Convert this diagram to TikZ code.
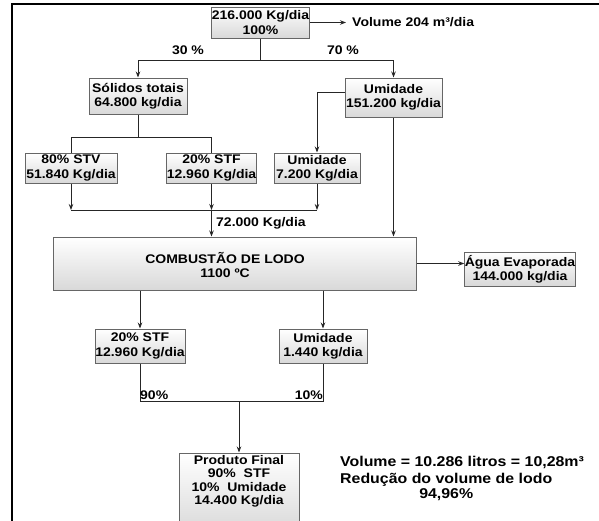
\documentclass[tikz,border=0pt]{standalone}
\usepackage{fontspec}
\setmainfont{Liberation Sans}[FakeStretch=1.12]
\usetikzlibrary{arrows.meta}
\begin{document}
\begin{tikzpicture}[x=1pt,y=-1pt,
  box/.style={draw=black!60, line width=1pt, top color=white, bottom color=gray!30,
    inner sep=0pt, align=center, font=\bfseries\fontsize{12.5}{14.2}\selectfont},
  ln/.style={draw=black!85, line width=0.9pt},
  arr/.style={ln, -{Stealth[length=6pt,width=4.5pt]}},
  lbl/.style={inner sep=0pt, align=center, font=\bfseries\fontsize{12.5}{14.2}\selectfont},
  rt/.style={inner sep=0pt, font=\bfseries\fontsize{14.2}{15}\selectfont}]
\useasboundingbox (0,0) rectangle (599,520);
\clip (0,0) rectangle (599,520);
% frame
\draw[line width=2.4pt] (12,522) -- (12,4) -- (601,4);

% boxes
\node[box, minimum width=97, minimum height=31] (A) at (260.5,22.5) {216.000 Kg/dia\\100\%};
\node[lbl, anchor=west] (V) at (352,22.5) {Volume 204 m³/dia};
\node[box, minimum width=98, minimum height=36] (B) at (138,96) {Sólidos totais\\64.800 kg/dia};
\node[box, minimum width=97, minimum height=39] (C) at (393.5,97.5) {Umidade\\151.200 kg/dia};
\node[box, minimum width=92, minimum height=30] (D1) at (71,168) {80\% STV\\51.840 Kg/dia};
\node[box, minimum width=89, minimum height=30] (D2) at (211.5,168) {20\% STF\\12.960 Kg/dia};
\node[box, minimum width=86, minimum height=30] (D3) at (317,168) {Umidade\\7.200 Kg/dia};
\node[box, minimum width=363, minimum height=53] (E) at (234.5,263.5) {};
\node[lbl] (Et) at (225,265) {COMBUSTÃO DE LODO\\1100 ºC};
\node[box, minimum width=110, minimum height=34] (F) at (520,269) {Água Evaporada\\144.000 kg/dia};
\node[box, minimum width=90, minimum height=34] (G1) at (140,346) {20\% STF\\12.960 Kg/dia};
\node[box, minimum width=88, minimum height=34] (G2) at (323,346) {Umidade\\1.440 kg/dia};
\node[box, minimum width=120, minimum height=80] (H) at (239,493) {};
\node[lbl, anchor=north, font=\bfseries\fontsize{12.5}{13.5}\selectfont] (Ht) at (239,455) {Produto Final\\90\%\ \ STF\\10\%\ \ Umidade\\14.400 Kg/dia};

% labels
\node[lbl] (p30) at (188,50) {30 \%};
\node[lbl] (p70) at (343,50) {70 \%};
\node[lbl, anchor=west] (k72) at (216,223) {72.000 Kg/dia};

\node[rt, anchor=base west] (R1) at (340,466) {Volume = 10.286 litros = 10,28m³};
\node[rt, anchor=base west] (R2) at (340,483) {Redução do volume de lodo};
\node[rt, anchor=base] (R3) at (R2.base |- 0,498) {94,96\%};

% connectors
\coordinate (jl) at (138,60);
\coordinate (jr) at (393.5,60);
\coordinate (k) at (0,137);
\coordinate (m) at (0,210);
\coordinate (n) at (0,401);

\draw[arr] (A.east) -- ([xshift=-6pt]V.west);
\draw[ln] (A.south) -- (A.south |- jl);
\draw[ln] (jl) -- (jr);
\draw[arr] (jl) -- (B.north);
\draw[arr] (jr) -- (C.north);

\draw[arr] ([yshift=5.5pt]C.west) -| (D3.north);
\draw[ln] (B.south) -- (B.south |- k);
\draw[ln] (D1.north) -- (D1.north |- k) -- (D2.north |- k) -- (D2.north);

\draw[ln] (D1.south |- m) -- (D3.south |- m);
\draw[arr] (D1.south) -- (D1.south |- m);
\draw[arr] (D2.south) -- (D2.south |- m);
\draw[arr] (D3.south) -- (D3.south |- m);
\draw[arr] (D2.south |- m) -- (D2.south |- E.north);
\draw[arr] (C.south) -- (C.south |- E.north);

\draw[arr] (E.east) -- (E.east -| F.west);
\draw[arr] (G1.north |- E.south) -- (G1.north);
\draw[arr] (G2.north |- E.south) -- (G2.north);

\draw[ln] (G1.south) -- (G1.south |- n) -- (G2.south |- n) -- (G2.south);
\node[lbl, anchor=south west] (p90) at ([yshift=1pt]G1.south |- n) {90\%};
\node[lbl, anchor=south east] (p10) at ([yshift=1pt]G2.south |- n) {10\%};
\draw[arr] (H.north |- n) -- (H.north);
\end{tikzpicture}
\end{document}
